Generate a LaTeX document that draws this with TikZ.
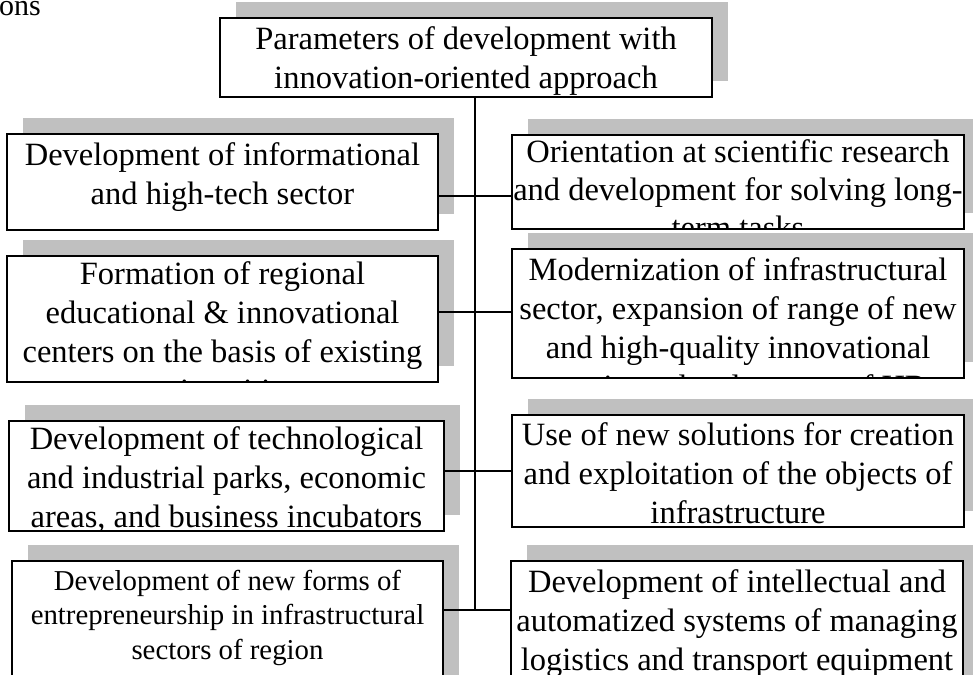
\documentclass[tikz,border=0pt]{standalone}
\usepackage{fontspec}
\setmainfont{Liberation Serif}
\usetikzlibrary{shadows}
\definecolor{shd}{RGB}{192,192,192}
\tikzset{
  boxst/.style={draw=black, line width=1.3pt, fill=white, rectangle, inner sep=0pt, outer sep=0pt,
    general shadow={fill=shd, shadow xshift=16pt, shadow yshift=16pt}},
  txtbig/.style={align=center, inner sep=0pt, font=\fontsize{32.5}{39}\selectfont},
  txttight/.style={align=center, inner sep=0pt, font=\fontsize{32.5}{38}\selectfont},
  txtsmall/.style={align=center, inner sep=0pt, font=\fontsize{28.8}{34.5}\selectfont},
  conn/.style={draw=black, line width=1.2pt},
}
% #1 name, #2 x1, #3 y1, #4 x2, #5 y2, #6 text style, #7 pad, #8 text
\newcommand\tbx[8]{%
  \node[boxst, anchor=north west, minimum width={#4-#2}, minimum height={#5-#3}] (#1) at (#2,-#3) {};
  \begin{scope}
    \clip (#1.north west) rectangle (#1.south east);
    \node[#6, anchor=north] (#1t) at ([yshift=-#7]#1.north) {\strut #8};
  \end{scope}
  \draw[line width=1.3pt] (#1.north west) rectangle (#1.south east);
}
\begin{document}
\begin{tikzpicture}[x=1pt,y=1pt]
\useasboundingbox (0,0) rectangle (973,-674);
\clip (0,0) rectangle (973,-674);
\fill[white] (0,0) rectangle (973,-674);
\node[anchor=base west, inner sep=0pt, font=\fontsize{30}{34}\selectfont] (cap) at (-1,-16) {ons};

\tbx{T}{220}{18}{712}{97}{txtbig}{4pt}{Parameters of development with\\innovation-oriented approach}
\draw[line width=1.8pt] (T.north west) rectangle (T.south east);

\tbx{L1}{7}{134}{438}{230}{txtbig}{4pt}{Development of informational\\and high-tech sector}
\tbx{R1}{512}{135}{964}{229}{txttight}{1pt}{Orientation at scientific research\\and development for solving long-\\term tasks}

\tbx{L2}{7}{256}{438}{382}{txtbig}{1pt}{Formation of regional\\educational \& innovational\\centers on the basis of existing\\universities}
\tbx{R2}{512}{249}{964}{378}{txtbig}{4pt}{Modernization of infrastructural\\sector, expansion of range of new\\and high-quality innovational\\services, development of HR}

\tbx{L3}{9}{421}{444}{531}{txtbig}{1pt}{Development of technological\\and industrial parks, economic\\areas, and business incubators}
\tbx{R3}{512}{415}{964}{527}{txtbig}{3pt}{Use of new solutions for creation\\and exploitation of the objects of\\infrastructure}

\tbx{L4}{12}{561}{443}{700}{txtsmall}{5pt}{Development of new forms of\\entrepreneurship in infrastructural\\sectors of region}
\tbx{R4}{511}{561}{963}{700}{txtbig}{4pt}{Development of intellectual and\\automatized systems of managing\\logistics and transport equipment}

\coordinate (j1) at (475,-196);
\coordinate (j2) at (475,-312);
\coordinate (j3) at (475,-471);
\coordinate (j4) at (475,-610);
\draw[conn] (T.south -| j1) -- (j4);
\draw[conn] (L1.east |- j1) -- (R1.west |- j1);
\draw[conn] (L2.east |- j2) -- (R2.west |- j2);
\draw[conn] (L3.east |- j3) -- (R3.west |- j3);
\draw[conn] (L4.east |- j4) -- (R4.west |- j4);
\end{tikzpicture}
\end{document}
